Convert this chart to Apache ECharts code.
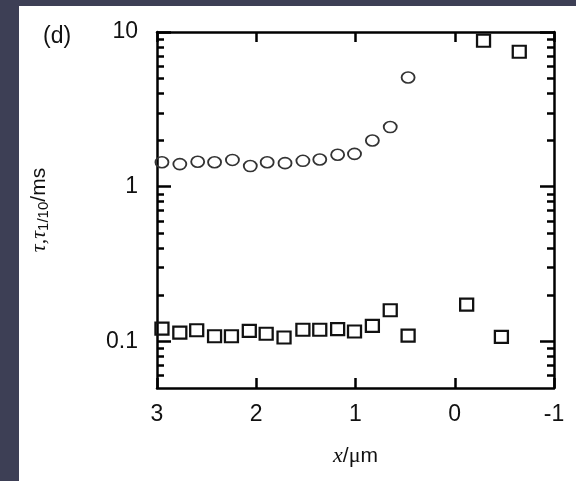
<!DOCTYPE html>
<html>
<head>
<meta charset="utf-8">
<title>tau vs x</title>
<script src="https://cdn.jsdelivr.net/npm/echarts@6/dist/echarts.min.js"></script>
<style>
  body { margin: 0; background: #3d3f55; }
  #panel { position: absolute; left: 19px; top: 6px; right: 0; bottom: 0; background: #fff; }
  #main { position: absolute; left: 0; top: 0; width: 576px; height: 481px; }
</style>
</head>
<body>
<div id="panel"></div>
<div id="main"></div>
<script type="text/javascript">
// tick values
var yMajor = [0.1, 1, 10];
var yMinor = [0.06, 0.07, 0.08, 0.09, 0.2, 0.3, 0.4, 0.5, 0.6, 0.7, 0.8, 0.9, 2, 3, 4, 5, 6, 7, 8, 9];

// circles (tau)
var tauX = [2.95, 2.77, 2.59, 2.42, 2.24, 2.06, 1.89, 1.71, 1.53, 1.36, 1.18, 1.01, 0.83, 0.65, 0.47];
var tauY = [1.44, 1.40, 1.45, 1.44, 1.49, 1.36, 1.44, 1.42, 1.47, 1.50, 1.61, 1.63, 1.99, 2.43, 5.08];

// squares (tau 1/10)
var sqX = [2.95, 2.77, 2.60, 2.42, 2.25, 2.07, 1.90, 1.72, 1.53, 1.36, 1.18, 1.01, 0.83, 0.65, 0.47, -0.12, -0.47, -0.29, -0.65];
var sqY = [0.121, 0.114, 0.118, 0.108, 0.108, 0.117, 0.112, 0.106, 0.119, 0.119, 0.120, 0.116, 0.126, 0.159, 0.109, 0.173, 0.107, 8.78, 7.45];

function pairs(xs, ys) {
    return xs.map(function (x, i) { return [x, ys[i]]; });
}

var myChart = echarts.init(document.getElementById('main'));

var lineStyle = { color: '#000', width: 2.5 };
var labelFont = { fontFamily: 'Liberation Sans, Arial, sans-serif', fontSize: 23, color: '#111' };

function xAx(pos, showLabel) {
    return {
        type: 'value', position: pos, min: -1, max: 3, interval: 1, inverse: true,
        axisLine: { show: true, onZero: false, lineStyle: lineStyle },
        axisTick: { show: true, inside: true, length: 10, lineStyle: lineStyle },
        axisLabel: Object.assign({ show: showLabel, margin: 15 }, labelFont),
        splitLine: { show: false }
    };
}

function yAx(pos, ticks, len, showLine, showLabel) {
    return {
        type: 'log', logBase: 10, position: pos, min: 0.05, max: 10,
        axisLine: { show: showLine, onZero: false, lineStyle: lineStyle },
        axisTick: { show: true, inside: true, length: len, customValues: ticks, lineStyle: lineStyle },
        axisLabel: Object.assign({ show: showLabel, margin: 19, customValues: yMajor }, labelFont),
        splitLine: { show: false }
    };
}

var xBottom = xAx('bottom', true);
xBottom.name = '{i|x}{n|/}{u|μ}{n|m}';
xBottom.nameLocation = 'middle';
xBottom.nameGap = 57;
xBottom.nameTextStyle = {
    rich: {
        i: { fontFamily: 'Liberation Serif, serif', fontStyle: 'italic', fontSize: 22, color: '#111' },
        u: { fontFamily: 'Liberation Serif, serif', fontSize: 22, color: '#111' },
        n: { fontFamily: 'Liberation Sans, sans-serif', fontSize: 21, color: '#111' }
    }
};

var yLeft = yAx('left', yMajor, 14, true, true);
yLeft.name = '{t|τ,τ}{s|1/10}{n|/ms}';
yLeft.nameLocation = 'middle';
yLeft.nameGap = 106;
yLeft.nameTextStyle = {
    rich: {
        t: { fontFamily: 'Liberation Serif, serif', fontStyle: 'italic', fontSize: 22, color: '#111' },
        s: { fontFamily: 'Liberation Sans, sans-serif', fontSize: 15, color: '#111', padding: [8, 0, 0, 0] },
        n: { fontFamily: 'Liberation Sans, sans-serif', fontSize: 21, color: '#111' }
    }
};

option = {
    animation: false,
    backgroundColor: 'transparent',
    title: {
        text: '(d)', left: 38, top: 20,
        textStyle: { fontFamily: 'Liberation Sans, Arial, sans-serif', fontSize: 23, fontWeight: 'normal', color: '#111' }
    },
    grid: { left: 157, right: 22, top: 32, bottom: 93 },
    xAxis: [xBottom, xAx('top', false)],
    yAxis: [
        yLeft,
        yAx('right', yMajor, 14, true, false),
        yAx('left', yMinor, 7, false, false),
        yAx('right', yMinor, 7, false, false)
    ],
    series: [
        {
            name: 'tau', type: 'scatter', symbol: 'circle', symbolSize: [13, 11],
            itemStyle: { color: 'rgba(255,255,255,0)', borderColor: '#333', borderWidth: 1.7, opacity: 1 },
            data: pairs(tauX, tauY)
        },
        {
            name: 'tau1/10', type: 'scatter', symbol: 'rect', symbolSize: [13, 12], clip: false,
            itemStyle: { color: 'rgba(255,255,255,0)', borderColor: '#111', borderWidth: 2.2, opacity: 1 },
            data: pairs(sqX, sqY)
        }
    ]
};

myChart.setOption(option);
</script>
</body>
</html>
